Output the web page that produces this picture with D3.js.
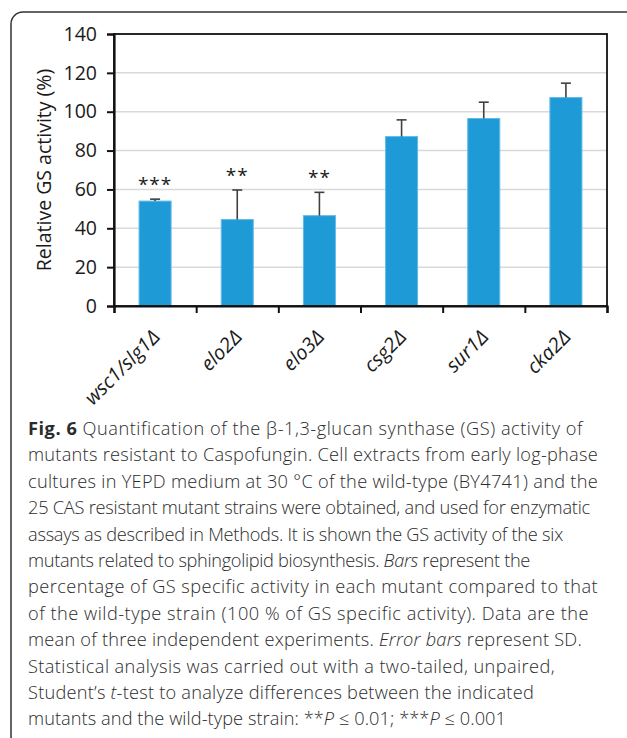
<!DOCTYPE html>
<html lang="en">
<head>
    <meta charset="UTF-8"/>
    <title>Fig. 6 – GS activity</title>
    <script src="https://d3js.org/d3.v7.min.js" charset="utf-8"></script>
    <style type="text/css">
        body { margin: 0; background: #fff; }
        text { font-family: "Open Sans", sans-serif; fill: #1a1a1a; }
        .grid line { stroke: #d9d9d9; stroke-width: 1.5px; }
        .caption { font-size: 18.2px; font-weight: 300; fill: #2b2b2b; }
    </style>
</head>
<body>
<svg width="627" height="738"></svg>
<script>

    // data
    let mutants = ["wsc1/slg1Δ", "elo2Δ", "elo3Δ", "csg2Δ", "sur1Δ", "cka2Δ"];
    let activity = [54, 44.5, 46.5, 87.2, 96.5, 107.3];
    let sd = [1, 15.2, 12, 8.6, 8.4, 7.4];
    let stars = ["***", "**", "**", "", "", ""];
    let yTicks = [0, 20, 40, 60, 80, 100, 120, 140];

    let captionLines = [
        [["Fig. 6", "b"], [" Quantification of the β-1,3-glucan synthase (GS) activity of", ""]],
        [["mutants resistant to Caspofungin. Cell extracts from early log-phase", ""]],
        [["cultures in YEPD medium at 30 °C of the wild-type (BY4741) and the", ""]],
        [["25 CAS resistant mutant strains were obtained, and used for enzymatic", ""]],
        [["assays as described in Methods. It is shown the GS activity of the six", ""]],
        [["mutants related to sphingolipid biosynthesis. ", ""], ["Bars", "i"], [" represent the", ""]],
        [["percentage of GS specific activity in each mutant compared to that", ""]],
        [["of the wild-type strain (100 % of GS specific activity). Data are the", ""]],
        [["mean of three independent experiments. ", ""], ["Error bars", "i"], [" represent SD.", ""]],
        [["Statistical analysis was carried out with a two-tailed, unpaired,", ""]],
        [["Student’s ", ""], ["t", "i"], ["-test to analyze differences between the indicated", ""]],
        [["mutants and the wild-type strain: **", ""], ["P", "i"], [" ≤ 0.01; ***", ""], ["P", "i"], [" ≤ 0.001", ""]]
    ];
    // right end of each caption line in the reference
    let captionEnds = [583, 598, 598, 590, 563, 530, 598, 589, 582, 555, 534, 506];

    let svg = d3.select("svg");

    // outer frame
    svg.append("rect")
        .attr("x", 11).attr("y", 12)
        .attr("width", 630).attr("height", 736)
        .attr("rx", 12)
        .attr("fill", "none")
        .attr("stroke", "#333")
        .attr("stroke-width", 1.5);

    let pLeft = 114, pRight = 607, pTop = 34, pBottom = 306;

    let x = d3.scaleBand().domain(mutants).range([pLeft, pRight]);
    let y = d3.scaleLinear().domain([0, 140]).range([pBottom, pTop]);

    // gridlines
    svg.append("g").attr("class", "grid")
        .selectAll("line")
        .data(yTicks.filter(function(d) { return d > 0 && d < 140; }))
        .enter().append("line")
        .attr("x1", pLeft).attr("x2", pRight)
        .attr("y1", function(d) { return y(d); })
        .attr("y2", function(d) { return y(d); });

    // bars
    let barW = x.bandwidth() * 0.39;
    svg.append("g")
        .selectAll("rect")
        .data(mutants)
        .enter().append("rect")
        .attr("x", function(d) { return x(d) + (x.bandwidth() - barW) / 2; })
        .attr("y", function(d, i) { return y(activity[i]); })
        .attr("width", barW)
        .attr("height", function(d, i) { return pBottom - y(activity[i]); })
        .attr("fill", "#1e9bd7")
        .attr("stroke", "#62bbe8")
        .attr("stroke-width", 1);

    // error bars (upper only)
    let err = svg.append("g").attr("stroke", "#404040").attr("stroke-width", 1.6);
    mutants.forEach(function(m, i) {
        let cx = x(m) + x.bandwidth() / 2;
        err.append("line")
            .attr("x1", cx).attr("x2", cx)
            .attr("y1", y(activity[i])).attr("y2", y(activity[i] + sd[i]));
        err.append("line")
            .attr("x1", cx - 5).attr("x2", cx + 5)
            .attr("y1", y(activity[i] + sd[i])).attr("y2", y(activity[i] + sd[i]));
    });

    // significance stars
    svg.append("g")
        .selectAll("text")
        .data(mutants)
        .enter().append("text")
        .attr("x", function(d) { return x(d) + x.bandwidth() / 2; })
        .attr("y", function(d, i) { return y(activity[i] + sd[i]) - 8; })
        .attr("text-anchor", "middle")
        .style("font-size", "19px")
        .style("letter-spacing", "1px")
        .text(function(d, i) { return stars[i]; });

    // plot frame
    svg.append("rect")
        .attr("x", pLeft).attr("y", pTop)
        .attr("width", pRight - pLeft).attr("height", pBottom - pTop)
        .attr("fill", "none")
        .attr("stroke", "#111")
        .attr("stroke-width", 1.8);

    // y axis
    let yAxis = svg.append("g")
        .attr("transform", "translate(" + pLeft + ",0)")
        .call(d3.axisLeft(y).tickValues(yTicks).tickSize(7).tickPadding(10));
    yAxis.select(".domain").attr("stroke", "#111").attr("stroke-width", 2.2);
    yAxis.selectAll(".tick line").attr("stroke", "#111").attr("stroke-width", 2);
    yAxis.selectAll("text").style("font-size", "19.5px").attr("fill", "#1a1a1a");

    // x axis: ticks at band edges
    let xEdges = d3.scaleLinear().domain([0, mutants.length]).range([pLeft, pRight]);
    let xAxis = svg.append("g")
        .attr("transform", "translate(0," + pBottom + ")")
        .call(d3.axisBottom(xEdges).ticks(6).tickSize(7).tickFormat(""));
    xAxis.select(".domain").attr("stroke", "#111").attr("stroke-width", 2.2);
    xAxis.selectAll(".tick line").attr("stroke", "#111").attr("stroke-width", 2);

    // x labels, rotated
    svg.append("g")
        .selectAll("text")
        .data(mutants)
        .enter().append("text")
        .attr("transform", function(d) {
            return "translate(" + (x(d) + x.bandwidth() / 2 + 6) + "," + (pBottom + 32) + ") rotate(-45)";
        })
        .attr("text-anchor", "end")
        .style("font-size", "20px")
        .style("font-style", "italic")
        .text(function(d) { return d; });

    // y title
    svg.append("text")
        .attr("transform", "translate(51," + ((pTop + pBottom) / 2) + ") rotate(-90)")
        .attr("text-anchor", "middle")
        .style("font-size", "19.5px")
        .text("Relative GS activity (%)");

    // caption, one text per line; letter spacing tuned to the reference line length
    captionLines.forEach(function(line, i) {
        let t = svg.append("text").attr("class", "caption")
            .attr("x", 28).attr("y", 435 + i * 26.4);
        line.forEach(function(seg) {
            let s = t.append("tspan").text(seg[0]);
            if (seg[1] === "b") s.style("font-weight", "bold");
            if (seg[1] === "i") s.style("font-style", "italic");
        });
        let full = line.map(function(s) { return s[0]; }).join("");
        let natural = t.node().getComputedTextLength();
        let ls = (captionEnds[i] - 28 - natural) / full.length;
        t.style("letter-spacing", Math.max(-0.7, Math.min(0.6, ls)) + "px");
    });

</script>
</body>
</html>
